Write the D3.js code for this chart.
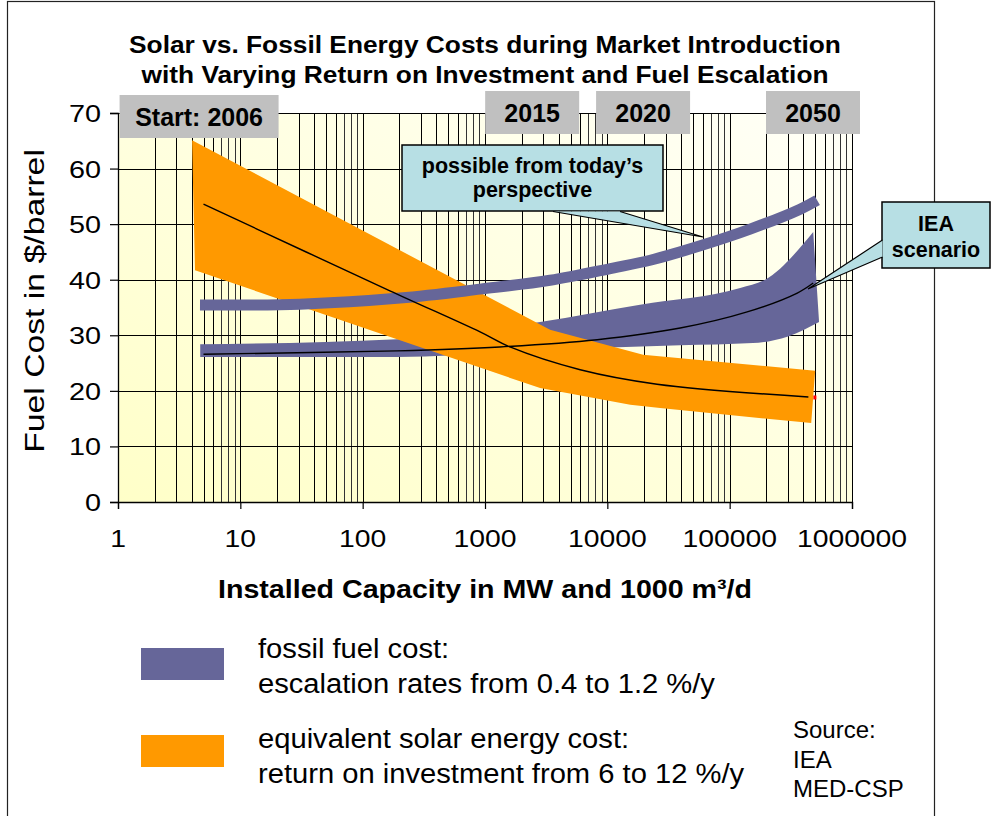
<!DOCTYPE html>
<html><head><meta charset="utf-8">
<script src="https://cdn.jsdelivr.net/npm/d3@7"></script>
<style>
html,body{margin:0;padding:0;background:#fff;}
svg{display:block;font-family:"Liberation Sans",Arial,sans-serif;}
</style></head>
<body>
<svg id="chart" width="992" height="816"></svg>
<script>
// ---------- data ----------
const titleLines = ["Solar vs. Fossil Energy Costs during Market Introduction",
                    "with Varying Return on Investment and Fuel Escalation"];
const yTicks = [0, 10, 20, 30, 40, 50, 60, 70];
const xTicks = [1, 10, 100, 1000, 10000, 100000, 1000000];
const xTickLabels = ["1", "10", "100", "1000", "10000", "100000", "1000000"];
const yearLabels = ["Start: 2006", "2015", "2020", "2050"];
const yearCapacity = [4.6, 2430, 19600, 480000];

// equivalent solar energy cost band (12 %/y upper edge, 6 %/y lower edge) and middle line
const solarHighX = [4.03, 3400, 19600, 500000];
const solarHighY = [65.1, 31.0, 26.5, 23.6];
const solarLowX = [4.26, 2820, 15400, 27000, 464000];
const solarLowY = [41.7, 20.5, 17.5, 16.9, 14.2];
const solarMidX = [5, 167, 912, 1600, 6000, 25500, 440000];
const solarMidY = [53.6, 38.0, 30.6, 27.9, 23.8, 21.2, 18.9];

// fossil fuel cost: "possible from today's perspective" path
const fossilHighX = [4.68, 30.8, 202, 912, 3400, 11100, 22400, 57400, 147000, 377000, 519000];
const fossilHighY = [35.45, 35.6, 36.7, 38.3, 39.9, 42.1, 43.5, 46.1, 49.1, 52.7, 54.3];

// fossil fuel cost: IEA scenario band and central line
const ieaTopX = [4.7, 191, 2820, 18500, 122000, 195000, 482000];
const ieaTopY = [28.4, 29.3, 32.4, 35.5, 38.5, 40.0, 48.6];
const ieaBotX = [4.7, 191, 2820, 39400, 155000, 300000, 538000];
const ieaBotY = [26.1, 26.1, 27.3, 28.2, 28.6, 29.8, 32.4];
const ieaMidX = [5, 191, 1320, 8260, 39400, 139000, 357000, 482000];
const ieaMidY = [26.6, 27.2, 27.9, 29.2, 31.3, 34.2, 37.6, 39.4];

const legendLabels = [["fossil fuel cost:", "escalation rates from 0.4 to 1.2 %/y"],
                      ["equivalent solar energy cost:", "return on investment from 6 to 12 %/y"]];
const sourceLines = ["Source:", "IEA", "MED-CSP"];
const callout1 = ["possible from today\u2019s", "perspective"];
const callout2 = ["IEA", "scenario"];
const axisTitleX = "Installed Capacity in MW and 1000 m\u00B3/d";
const axisTitleY = "Fuel Cost in $/barrel";

// ---------- layout ----------
const W = 992, H = 816;
const plot = {left: 118, right: 852, top: 113, bottom: 502};
const PURPLE = "#666699", ORANGE = "#FF9900", TEAL = "#B7DFE4", GREY = "#C0C0C0";

const svg = d3.select("#chart");
const x = d3.scaleLog().domain([1, 1000000]).range([plot.left, plot.right]);
const y = d3.scaleLinear().domain([0, 70]).range([plot.bottom, plot.top]);

function stext(parent, px, py, str, o) {
  const g = parent.append("g")
    .attr("transform", `translate(${px},${py})` + (o.rotate ? ` rotate(${o.rotate})` : "") + ` scale(${o.sx || 1},1)`);
  return g.append("text")
    .attr("text-anchor", o.anchor || "start")
    .attr("font-size", o.size)
    .attr("font-weight", o.weight || "normal")
    .attr("fill", "#000")
    .text(str);
}

// white background + outer frame
svg.append("rect").attr("width", W).attr("height", H).attr("fill", "#fff");
svg.append("rect").attr("x", 7.5).attr("y", 1.5).attr("width", 927).attr("height", 900)
  .attr("fill", "none").attr("stroke", "#222").attr("stroke-width", 1.2);

// plot background gradient
const defs = svg.append("defs");
const grad = defs.append("linearGradient").attr("id", "bg")
  .attr("x1", "0").attr("y1", "1").attr("x2", "1").attr("y2", "0");
grad.append("stop").attr("offset", "0").attr("stop-color", "#FFFFC8");
grad.append("stop").attr("offset", "0.6").attr("stop-color", "#FFFFE4");
grad.append("stop").attr("offset", "1").attr("stop-color", "#FFFFF8");
svg.append("rect").attr("x", plot.left).attr("y", plot.top)
  .attr("width", plot.right - plot.left).attr("height", plot.bottom - plot.top)
  .attr("fill", "url(#bg)");

// grid lines
const grid = svg.append("g").attr("stroke", "#000").attr("stroke-width", 1).attr("shape-rendering", "crispEdges");
const minor = [];
for (let e = 0; e < 6; e++) for (let k = 1; k <= 9; k++) minor.push(k * Math.pow(10, e));
minor.push(1000000);
grid.selectAll("line.v").data(minor).join("line")
  .attr("x1", d => Math.round(x(d)) + 0.5).attr("x2", d => Math.round(x(d)) + 0.5)
  .attr("y1", plot.top).attr("y2", plot.bottom)
  .attr("stroke", (d, i) => (i % 9 >= 6 ? "#333" : "#000"));
grid.selectAll("line.h").data(yTicks.slice(1)).join("line")
  .attr("x1", plot.left).attr("x2", plot.right)
  .attr("y1", d => Math.round(y(d)) + 0.5).attr("y2", d => Math.round(y(d)) + 0.5);

// axes
const yAxis = svg.append("g").attr("transform", `translate(${plot.left},0)`)
  .call(d3.axisLeft(y).tickValues(yTicks).tickSize(8).tickFormat(""));
const xAxis = svg.append("g").attr("transform", `translate(0,${plot.bottom})`)
  .call(d3.axisBottom(x).tickValues(xTicks).tickSize(7).tickFormat(""));
[yAxis, xAxis].forEach(a => {
  a.select(".domain").attr("stroke", "#000").attr("stroke-width", 1.3);
  a.selectAll(".tick line").attr("stroke", "#000").attr("stroke-width", 1.2);
});
yTicks.forEach(t => stext(svg, 101, y(t) + 9, String(t), {size: 24, anchor: "end", sx: 1.2}));
xTicks.forEach((t, i) => stext(svg, x(t), 547, xTickLabels[i], {size: 24, anchor: "middle", sx: 1.18}));

// axis titles
stext(svg, 485, 598, axisTitleX, {size: 26, weight: "bold", anchor: "middle", sx: 1.1});
stext(svg, 44, 301, axisTitleY, {size: 27, anchor: "middle", sx: 1.25, rotate: -90});

// chart title
titleLines.forEach((t, i) => stext(svg, 485, 53 + i * 30, t, {size: 23.5, weight: "bold", anchor: "middle", sx: 1.12}));

// ---------- series ----------
const pts = (xs, ys) => xs.map((v, i) => [x(v), y(ys[i])]);
const marks = svg.append("g");
const mono = d3.line().curve(d3.curveMonotoneX);
const smooth = d3.line().curve(d3.curveCatmullRom.alpha(0.5));

// IEA scenario band (lower purple)
marks.append("path")
  .attr("d", mono(pts(ieaTopX, ieaTopY)) + "L" + mono(pts(ieaBotX, ieaBotY).reverse()).slice(1) + "Z")
  .attr("fill", PURPLE);

// solar band (orange)
const solarPoly = pts(solarHighX, solarHighY).concat(pts(solarLowX, solarLowY).reverse());
marks.append("path").attr("d", d3.line()(solarPoly) + "Z").attr("fill", ORANGE);

// possible-from-today path (upper purple)
marks.append("path")
  .attr("d", smooth(pts(fossilHighX, fossilHighY)))
  .attr("fill", "none").attr("stroke", PURPLE).attr("stroke-width", 11).attr("stroke-linecap", "butt");

// central lines
marks.append("path").attr("d", smooth(pts(solarMidX, solarMidY)))
  .attr("fill", "none").attr("stroke", "#000").attr("stroke-width", 1.4);
marks.append("path").attr("d", smooth(pts(ieaMidX, ieaMidY)))
  .attr("fill", "none").attr("stroke", "#000").attr("stroke-width", 1.4);
// small red end marker of the solar line
marks.append("rect").attr("x", x(solarMidX[solarMidX.length - 1]) + 5).attr("y", y(solarMidY[solarMidY.length - 1]) - 1.5)
  .attr("width", 3).attr("height", 4).attr("fill", "#FF0000");

// ---------- year boxes ----------
const yearBoxes = svg.append("g");
yearLabels.forEach((lab, i) => {
  const cx = x(yearCapacity[i]);
  const w = i === 0 ? 159 : 94;
  const top = i === 0 ? 95 : 91;
  yearBoxes.append("rect").attr("x", cx - w / 2).attr("y", top).attr("width", w).attr("height", 43).attr("fill", GREY);
  stext(yearBoxes, cx, top + 31, lab, {size: 25, weight: "bold", anchor: "middle"});
});

// ---------- callouts ----------
const co = svg.append("g");
function callout(box, tri, lines, baseY, lineH) {
  co.append("rect").attr("x", box[0]).attr("y", box[1]).attr("width", box[2]).attr("height", box[3])
    .attr("fill", TEAL).attr("stroke", "#000").attr("stroke-width", 1.5);
  co.append("path").attr("d", d3.line()(tri)).attr("fill", TEAL).attr("stroke", "none");
  co.append("path").attr("d", d3.line()([tri[0], tri[1], tri[2]])).attr("fill", "none").attr("stroke", "#000").attr("stroke-width", 1.2);
  lines.forEach((t, i) => stext(co, box[0] + box[2] / 2, baseY + i * lineH, t, {size: 21.5, weight: "bold", anchor: "middle"}));
}
callout([402, 145, 261, 66], [[553, 211.5], [703, 237], [620, 211.5]], callout1, 173, 24);
callout([882, 202, 108, 66], [[882.5, 240], [808, 289], [882.5, 257]], callout2, 231, 26);

// ---------- legend ----------
const leg = svg.append("g");
[PURPLE, ORANGE].forEach((c, i) => {
  leg.append("rect").attr("x", 141).attr("y", 648 + i * 87).attr("width", 83).attr("height", 32).attr("fill", c);
  legendLabels[i].forEach((t, j) => stext(leg, 258, 658 + i * 90 + j * 35, t, {size: 27, sx: 1.08}));
});
sourceLines.forEach((t, i) => stext(leg, 793, 738 + i * 29.5, t, {size: 24}));
</script>
</body></html>
